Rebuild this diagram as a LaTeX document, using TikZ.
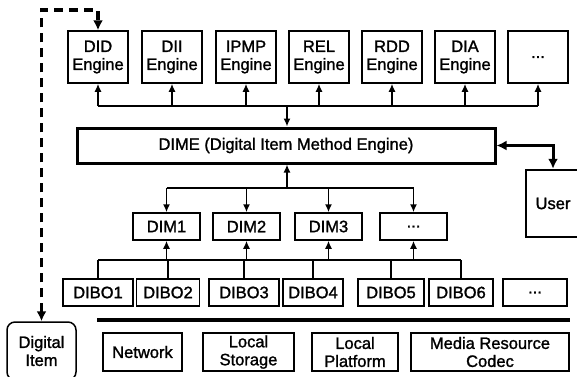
\documentclass[tikz,border=0pt]{standalone}
\usepackage{fontspec}
\setmainfont[FakeBold=1.4]{Liberation Sans}
\usetikzlibrary{arrows.meta}

\begin{document}
\begin{tikzpicture}[x=1pt, y=-1pt, font=\fontsize{16.5}{18}\selectfont,
    >={Latex[length=8pt,width=7pt]},
    box/.style={draw, line width=1.5pt, align=center, inner sep=0pt},
    eng/.style={box, minimum width=60pt, minimum height=52pt},
    dimbox/.style={box, minimum width=67pt, minimum height=27pt},
    dibobox/.style={box, minimum height=27pt},
    resbox/.style={box, minimum height=38pt},
    wire/.style={line width=1.5pt}]
        \useasboundingbox (0,0) rectangle (577,376);

        \node(did)   at (98,57)  [eng]{DID\\Engine};
        \node(dii)   at (172,57) [eng]{DII\\Engine};
        \node(ipmp)  at (246,57) [eng]{IPMP\\Engine};
        \node(rel)   at (319,57) [eng]{REL\\Engine};
        \node(rdd)   at (392,57) [eng]{RDD\\Engine};
        \node(dia)   at (465,57) [eng]{DIA\\Engine};
        \node(edots) at (538,57) [eng]{...};

        \node(dime) at (286,145.5) [box, line width=3pt, minimum width=418pt, minimum height=35pt]{DIME (Digital Item Method Engine)};
        \node(user) at (553,203.5) [box, line width=2.5pt, minimum width=54pt, minimum height=67pt]{User};

        \node(dim1) at (166.5,226.5) [dimbox]{DIM1};
        \node(dim2) at (246.5,226.5) [dimbox]{DIM2};
        \node(dim3) at (328.5,226.5) [dimbox]{DIM3};
        \node(dimx) at (413.5,226.5) [dimbox]{...};

        \node(dibo1) at (98,292.5)  [dibobox, minimum width=70pt]{DIBO1};
        \node(dibo2) at (168,292.5) [dibobox, minimum width=63pt]{DIBO2};
        \node(dibo3) at (244,292.5) [dibobox, minimum width=70pt]{DIBO3};
        \node(dibo4) at (313,292.5) [dibobox, minimum width=60pt]{DIBO4};
        \node(dibo5) at (391,292.5) [dibobox, minimum width=66pt]{DIBO5};
        \node(dibo6) at (461,292.5) [dibobox, minimum width=64pt]{DIBO6};
        \node(dibox) at (535,292.5) [dibobox, minimum width=64pt]{...};

        \node(net)   at (142.5,352) [resbox, minimum width=79pt]{Network};
        \node(store) at (248.5,352) [resbox, minimum width=91pt]{Local\\Storage};
        \node(plat)  at (355,352)   [resbox, minimum width=86pt]{Local\\Platform};
        \node(codec) at (490,352)   [resbox, minimum width=158pt]{Media Resource\\Codec};

        \node(item) at (41.5,351) [box, rounded corners=8pt, minimum width=69pt, minimum height=58pt]{Digital\\Item};

        \coordinate(ebus) at (287,106);
        \coordinate(mbus) at (287,188);
        \coordinate(bbus) at (287,260);
        \coordinate(rl) at (97,320);
        \coordinate(rr) at (570,320);
        \coordinate(top) at (42,10);

        % engines
        \draw[wire] (ebus -| did) -- (ebus -| edots);
        \foreach \n in {did,dii,ipmp,rel,rdd,dia,edots}
            \draw[wire,->] (ebus -| \n) -- (\n.south);
        \draw[wire,->] (ebus) -- (ebus |- dime.north);

        % dims
        \draw[wire] (mbus -| dim1) -- (mbus -| dimx);
        \foreach \n in {dim1,dim2,dim3,dimx}
            \draw[wire,->] (mbus -| \n) -- (\n.north);
        \draw[wire,->] (mbus) -- (mbus |- dime.south);

        % dibos
        \draw[wire] (bbus -| dibo1) -- (bbus -| dibo6);
        \foreach \n in {dibo1,dibo2,dibo3,dibo4,dibo5,dibo6}
            \draw[wire] (bbus -| \n) -- (\n.north);
        \foreach \n in {dim1,dim2,dim3,dimx}
            \draw[wire,->] (bbus -| \n) -- (\n.south);

        \draw[line width=4.5pt] (rl) -- (rr);

        \draw[line width=3pt, {Latex[length=10pt,width=10pt]}-{Latex[length=10pt,width=10pt]}] (dime.east) -| (user.north);
        \draw[line width=3.5pt, dash pattern=on 9pt off 6pt, {Latex[length=10pt,width=10pt]}-{Latex[length=10pt,width=10pt]}] (item.north) |- (did.north |- top) -- (did.north);

    \end{tikzpicture}
\end{document}
